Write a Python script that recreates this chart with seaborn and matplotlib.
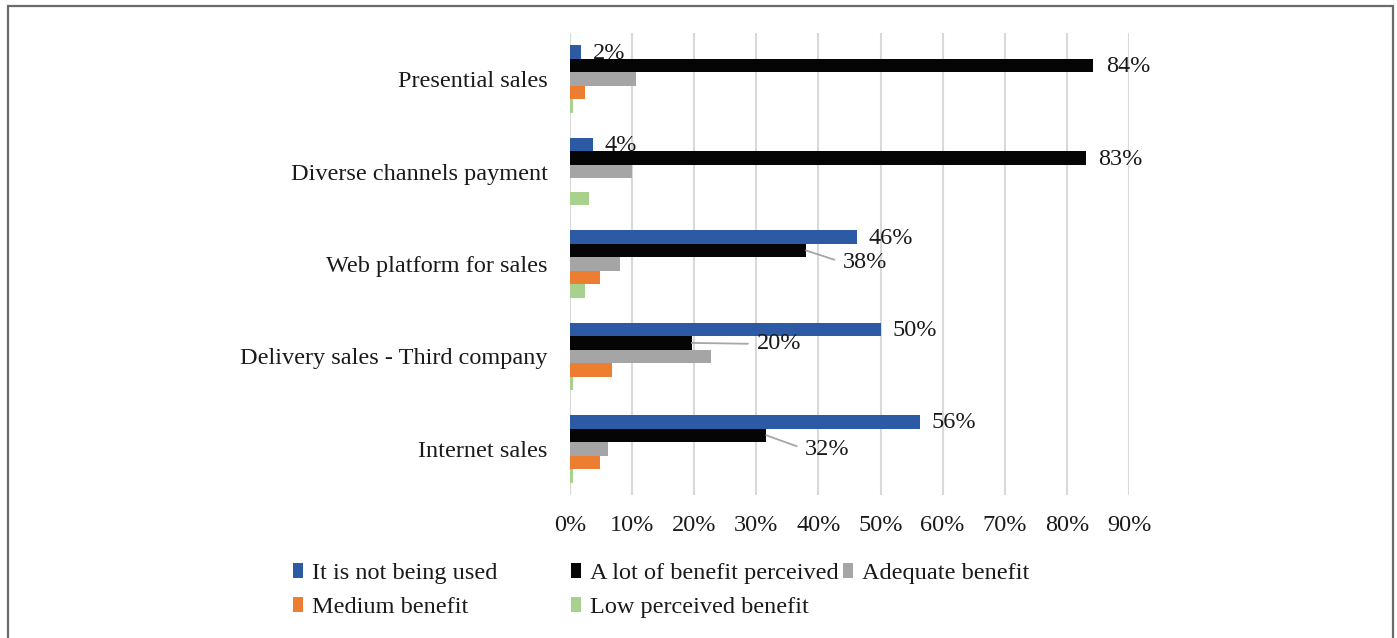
import matplotlib
matplotlib.use("Agg")
import matplotlib.pyplot as plt
from matplotlib.patches import Rectangle, Patch
from matplotlib.ticker import PercentFormatter
import seaborn as sns
import pandas as pd

# ---------------- data ----------------
categories = ["Presential sales", "Diverse channels payment", "Web platform for sales",
              "Delivery sales - Third company", "Internet sales"]
series = ["It is not being used", "A lot of benefit perceived", "Adequate benefit",
          "Medium benefit", "Low perceived benefit"]
not_used = [0.018, 0.037, 0.462, 0.500, 0.563]
a_lot = [0.842, 0.830, 0.380, 0.196, 0.316]
adequate = [0.106, 0.100, 0.080, 0.227, 0.061]
medium = [0.024, 0.000, 0.049, 0.068, 0.049]
low = [0.005, 0.030, 0.024, 0.005, 0.005]
xticks = [0.0, 0.1, 0.2, 0.3, 0.4, 0.5, 0.6, 0.7, 0.8, 0.9]

colors = ["#2C5AA5", "#050505", "#A5A5A5", "#ED7D31", "#A9D18E"]

rows = []
for s, vals in zip(series, [not_used, a_lot, adequate, medium, low]):
    for c, v in zip(categories, vals):
        rows.append({"category": c, "series": s, "value": v})
df = pd.DataFrame(rows)

# ---------------- style ----------------
sns.set_theme(style="white")
plt.rcParams["font.family"] = ["Liberation Serif", "DejaVu Serif"]
FS = 17.5
TXT = "#1a1a1a"

W, H = 1397, 638
fig = plt.figure(figsize=(W / 100, H / 100), dpi=100)
ax = fig.add_axes([570 / W, 1 - 495 / H, (1129 - 570) / W, (495 - 33) / H])

sns.barplot(data=df, y="category", x="value", hue="series", orient="h",
            order=categories, hue_order=series, palette=colors,
            width=0.73, ax=ax, legend=False, saturation=1, linewidth=0)

ax.set_xlim(0, 0.9)
ax.set_xticks(xticks)
ax.xaxis.set_major_formatter(PercentFormatter(1.0, decimals=0))
ax.set_xlabel("")
ax.set_ylabel("")
ax.grid(axis="x", color="#D9D9D9", linewidth=1.5)
ax.grid(axis="y", visible=False)
ax.set_axisbelow(True)
for sp in ax.spines.values():
    sp.set_visible(False)
ax.tick_params(axis="y", length=0, pad=16, labelsize=FS, labelcolor=TXT)
ax.tick_params(axis="x", length=0, pad=14.5, labelsize=FS, labelcolor=TXT)

# ---------------- data labels ----------------
blue_c = ax.containers[0]
black_c = ax.containers[1]
for p, v in zip(blue_c.patches, not_used):
    ax.annotate(f"{round(v * 100)}%", xy=(p.get_width(), p.get_y() + p.get_height() / 2),
                xytext=(12, -1), textcoords="offset pixels", ha="left", va="center",
                fontsize=FS, color=TXT)

leader_offsets = [None, None, (37, -12), (65, -1), (39, -14)]
for p, v, off in zip(black_c.patches, a_lot, leader_offsets):
    xy = (p.get_width(), p.get_y() + p.get_height() / 2)
    if off is None:
        ax.annotate(f"{round(v * 100)}%", xy=xy, xytext=(13, -1), textcoords="offset pixels",
                    ha="left", va="center", fontsize=FS, color=TXT)
    else:
        ax.annotate(f"{round(v * 100)}%", xy=xy, xytext=off, textcoords="offset pixels",
                    ha="left", va="center", fontsize=FS, color=TXT,
                    arrowprops=dict(arrowstyle="-", color="#A6A6A6", lw=1.3,
                                    relpos=(0, 0.5), shrinkA=4, shrinkB=0))

# ---------------- legend (three columns, Excel-like fixed positions) ----------------
handles = [Patch(facecolor=c, edgecolor="none") for c in colors]
col_groups = [([0, 3], 293), ([1, 4], 571), ([2], 843)]
for idx, xpix in col_groups:
    fig.legend([handles[i] for i in idx], [series[i] for i in idx],
               loc="upper left", bbox_to_anchor=(xpix / W, 1 - 563 / H),
               frameon=False, fontsize=FS, handlelength=0.4, handleheight=0.55,
               handletextpad=0.4, labelspacing=0.55, borderpad=0, borderaxespad=0,
               labelcolor=TXT)

# ---------------- outer frame ----------------
fig.add_artist(Rectangle((8 / W, -0.05), (1393 - 8) / W, 1 - 6 / H + 0.05,
                         transform=fig.transFigure, fill=False,
                         edgecolor="#6b6b6b", linewidth=1.6))

fig.savefig("out.png", dpi=100)
